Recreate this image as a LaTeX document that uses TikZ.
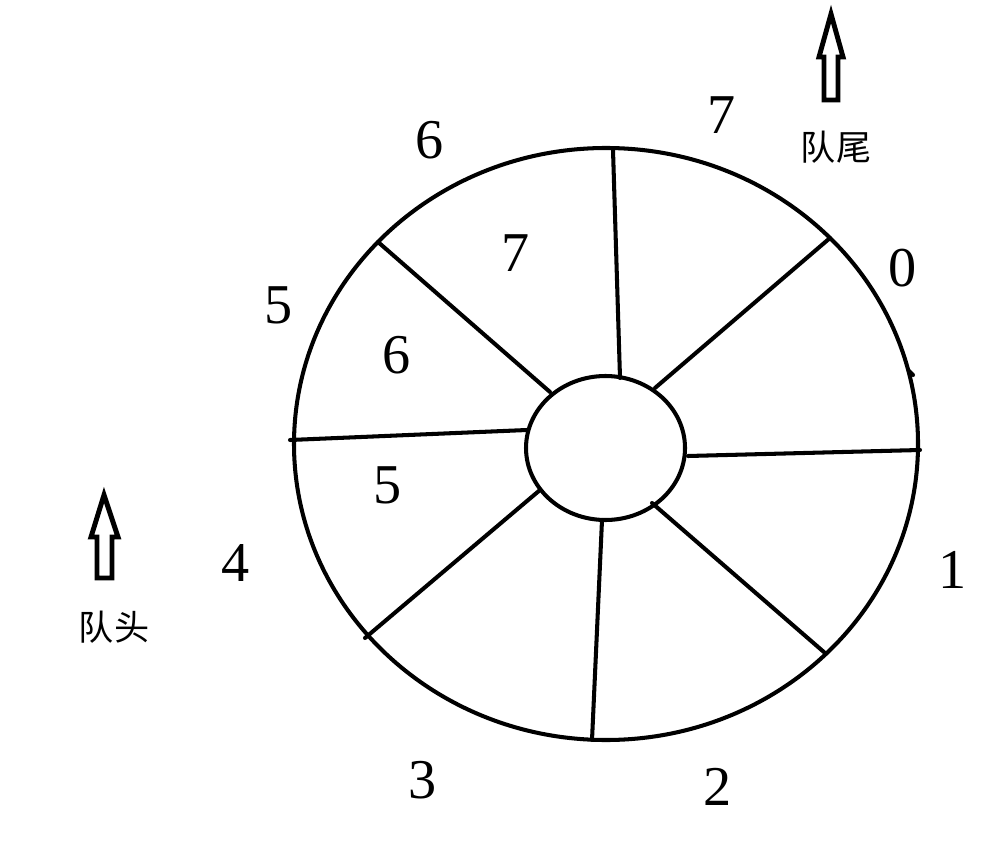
\documentclass[tikz,border=0pt]{standalone}
\usepackage{fontspec}
\setmainfont{Liberation Serif}
\newfontfamily\cjk{Noto Sans CJK SC}
\usetikzlibrary{calc}

\begin{document}
\begin{tikzpicture}[x=0.02cm,y=-0.02cm,line width=2.3pt,line cap=round]
\tikzset{num/.style={font=\fontsize{32}{32}\selectfont},
	tag/.style={font=\cjk\fontsize{20}{20}\selectfont},
	pointer/.style={line width=2.8pt,line join=miter}}
\useasboundingbox (0,0) rectangle (989,847);
% rings
\draw (606,444) ellipse [x radius=312, y radius=296];
\draw (605.5,448) ellipse [x radius=79.5, y radius=72];
\draw (909,371) -- (913,375);
% spokes: inner end / outer end
\def\spokes{0/620/378/613/150,1/655/388/830/238,2/688/456/920/450,3/652/503/825/653,4/602/520/592/740,5/540/490/365/638,6/527/430/290/440,7/550/392/378/242}
\foreach \i/\xa/\ya/\xb/\yb in \spokes{
	\coordinate (in\i) at (\xa,\ya);
	\coordinate (out\i) at (\xb,\yb);
	\draw (in\i) -- (out\i);
}
% slot numbers
\def\outer{7/722/115,0/903/268,1/953/570,2/718/787,3/423/780,4/236/563,5/279/305,6/430/140}
\foreach \lbl/\xx/\yy in \outer{
	\node[num] (slot\lbl) at (\xx,\yy) {\lbl};
}
% queued items
\def\inner{7/516/253,6/397/355,5/388/485}
\foreach \lbl/\xx/\yy in \inner{
	\node[num] (item\lbl) at (\xx,\yy) {\lbl};
}
% rear pointer
\draw[pointer] (831,14) -- (843,57) -- (838,57) -- (838,100) -- (824,100) -- (824,57) -- (819,57) -- cycle;
\node[tag] (rear) at (836,147) {队尾};
% front pointer
\draw[pointer] (104,495) -- (118,537) -- (112,537) -- (112,578) -- (97,578) -- (97,537) -- (91,537) -- cycle;
\node[tag] (front) at (114,627) {队头};
\end{tikzpicture}
\end{document}
